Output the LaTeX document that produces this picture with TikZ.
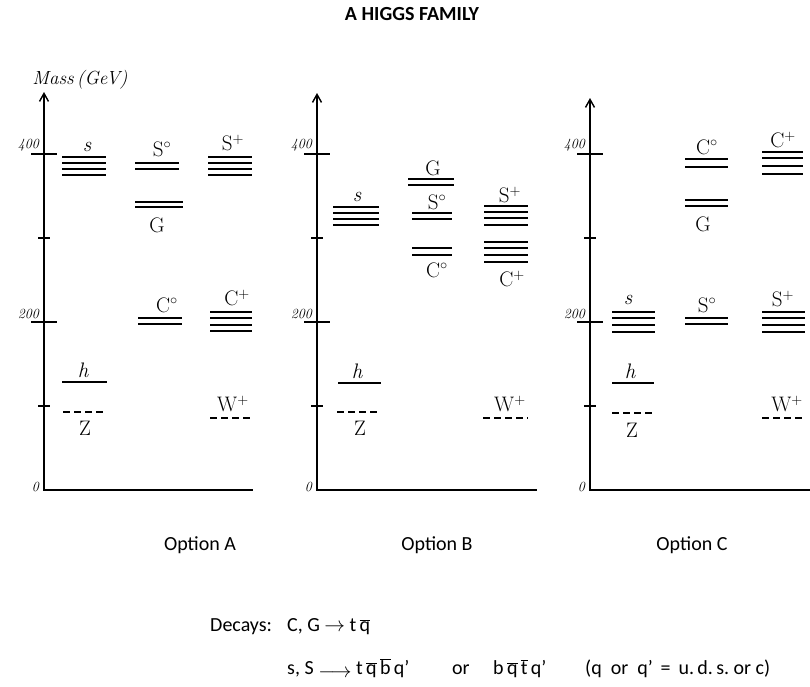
\documentclass[tikz,border=0pt]{standalone}
\usepackage{fontspec}
\newfontfamily\calibri{Carlito}
\usetikzlibrary{positioning, arrows.meta}

\newcommand{\drawlevels}[3]{\foreach \yy in {#3} \draw[lvl] (#1,\yy) -- (#2,\yy);}
\newcommand{\qbar}[1]{$\overline{\mbox{#1}}$}

\begin{document}
\begin{tikzpicture}[
  x=1pt, y=-1pt,
  axis/.style={line width=1.4pt},
  tickmark/.style={line width=1.2pt},
  lvl/.style={line width=1.7pt},
  dlvl/.style={line width=1.4pt, dash pattern=on 7pt off 4pt},
  hand/.style={font=\fontsize{21}{24}\selectfont, inner sep=0pt},
  num/.style={font=\fontsize{14}{16}\selectfont\itshape, inner sep=0pt},
  print/.style={font=\calibri\fontsize{20}{24}\selectfont, inner sep=0pt}
]
\useasboundingbox (0,0) rectangle (810,686);

% Title
\node[print, font=\calibri\bfseries\fontsize{20}{24}\selectfont] (title) at (412,14) {A HIGGS FAMILY};

% Axes with ticks
\foreach \name/\ax/\top/\right in {A/44/92/253, B/317/93/537, C/590/98/810} {
  \coordinate (\name-top) at (\ax,\top);
  \coordinate (\name-orig) at (\ax,490);
  \coordinate (\name-end) at (\right,490);
  \draw[axis,{Straight Barb[length=8pt,width=9pt]}-] (\name-top) -- (\name-orig) -- (\name-end);
  \foreach \m in {100,300} \draw[tickmark] (\ax-6,490-0.84*\m) -- (\ax+6,490-0.84*\m);
  \foreach \m in {200,400} {
    \draw[tickmark] (\ax-13,490-0.84*\m) -- (\ax+13,490-0.84*\m);
    \node[num, anchor=south east] (\name-\m) at (\ax-5,487-0.84*\m) {\m};
  }
  \node[num, anchor=south east] (\name-0) at (\ax-5,492) {0};
}
\node[hand, font=\fontsize{19}{22}\selectfont\itshape] (mass) at (80,80) {Mass\,(GeV)};

% Option A
\drawlevels{62}{106}{157,163,169,175}
\node[hand] (A-s) at (87,147) {\itshape s};
\drawlevels{135}{179}{163,169}
\node[hand] (A-S0) at (162,149) {S$^\circ$};
\drawlevels{135}{183}{202,207}
\node[hand] (A-G) at (157,225) {G};
\drawlevels{208}{252}{157,163,169,175}
\node[hand] (A-Sp) at (233,143) {S$^+$};
\drawlevels{138}{182}{318,324}
\node[hand] (A-C0) at (167,305) {C$^\circ$};
\drawlevels{210}{252}{312,318,325,331}
\node[hand] (A-Cp) at (237,298) {C$^+$};
\drawlevels{62}{107}{382}
\node[hand] (A-h) at (83,370) {\itshape h};
\draw[dlvl] (63,412) -- (104,412);
\node[hand] (A-Z) at (85,428) {Z};
\draw[dlvl] (210,418) -- (253,418);
\node[hand] (A-Wp) at (233,404) {W$^+$};

% Option B
\drawlevels{333}{379}{207,213,219,225}
\node[hand] (B-s) at (357,197) {\itshape s};
\drawlevels{408}{454}{179,185}
\node[hand] (B-G) at (433,168) {G};
\drawlevels{412}{452}{213,219}
\node[hand] (B-S0) at (437,202) {S$^\circ$};
\drawlevels{412}{452}{248,255}
\node[hand] (B-C0) at (437,270) {C$^\circ$};
\drawlevels{484}{528}{206,212,218,225}
\node[hand] (B-Sp) at (510,195) {S$^+$};
\drawlevels{484}{528}{242,248,255,262}
\node[hand] (B-Cp) at (512,279) {C$^+$};
\drawlevels{338}{381}{383}
\node[hand] (B-h) at (357,371) {\itshape h};
\draw[dlvl] (337,412) -- (379,412);
\node[hand] (B-Z) at (360,428) {Z};
\draw[dlvl] (483,418) -- (528,418);
\node[hand] (B-Wp) at (510,404) {W$^+$};

% Option C
\drawlevels{612}{655}{312,318,325,332}
\node[hand] (C-s) at (628,300) {\itshape s};
\drawlevels{685}{728}{318,324}
\node[hand] (C-S0) at (707,305) {S$^\circ$};
\drawlevels{762}{805}{312,318,325,332}
\node[hand] (C-Sp) at (783,299) {S$^+$};
\drawlevels{685}{728}{159,167}
\node[hand] (C-C0) at (707,147) {C$^\circ$};
\drawlevels{685}{728}{200,206}
\node[hand] (C-G) at (703,224) {G};
\drawlevels{762}{803}{152,158,166,174}
\node[hand] (C-Cp) at (783,140) {C$^+$};
\drawlevels{612}{654}{383}
\node[hand] (C-h) at (630,371) {\itshape h};
\draw[dlvl] (612,413) -- (653,413);
\node[hand] (C-Z) at (632,430) {Z};
\draw[dlvl] (762,418) -- (802,418);
\node[hand] (C-Wp) at (787,404) {W$^+$};

% Option captions
\node[print] (optA) at (200,545) {Option A};
\node[print] (optB) at (437,545) {Option B};
\node[print] (optC) at (692,545) {Option C};

% Decays
\node[print, anchor=base west] (decays) at (210,631) {Decays:};
\node[print, anchor=base west] (decCG) at (287,631) {C, G $\rightarrow$ t\,\qbar{q}};
\node[print, anchor=base west] (decsS) at (287,674) {s, S \raisebox{-3pt}{$\longrightarrow$} t\,\qbar{q}\,\qbar{b}\,q’};
\node[print, anchor=base west] (decor) at (452,674) {or};
\node[print, anchor=base west] (decalt) at (493,674) {b\,\qbar{q}\,\qbar{t}\,q’};
\node[print, anchor=base west] (decnote) at (585,674) {(q\ \ or\ \ q’\ \,=\ \,u.\,d.\,s.\ or\ c)};

\end{tikzpicture}
\end{document}
